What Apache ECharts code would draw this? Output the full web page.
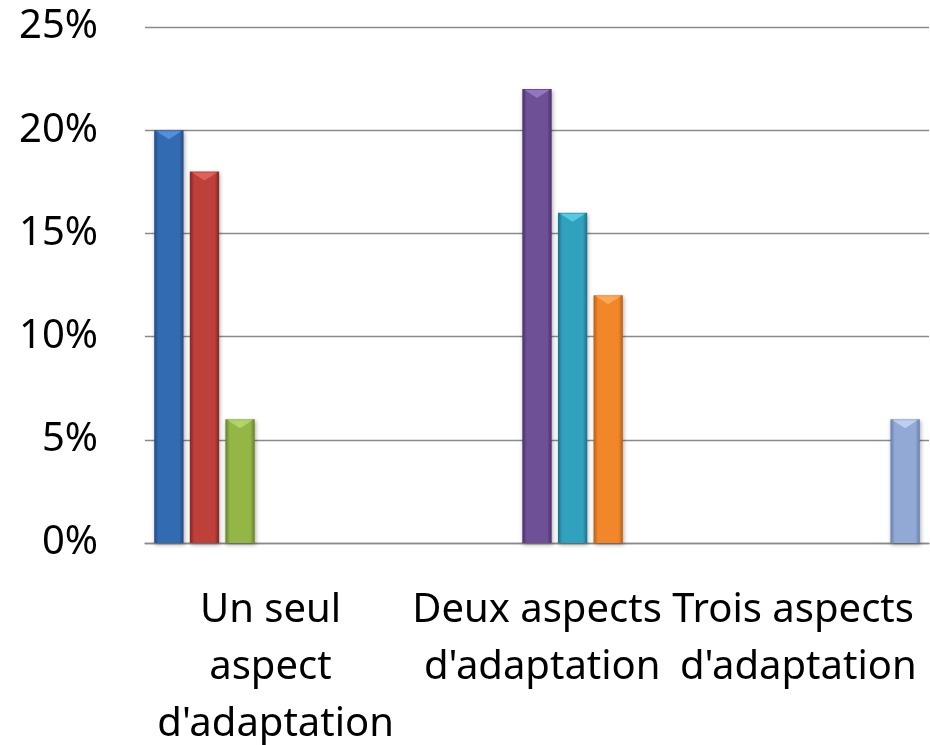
<!DOCTYPE html>
<html>
<head>
<meta charset="utf-8">
<script src="https://cdn.jsdelivr.net/npm/echarts@6/dist/echarts.min.js"></script>
<style>
  html, body { margin: 0; padding: 0; background: #fff; }
  #chart { width: 930px; height: 745px; }
</style>
</head>
<body>
<div id="chart"></div>
<script>
// categories (x axis)
var categories = ["Un seul aspect d'adaptation", "Deux aspects d'adaptation", "Trois aspects d'adaptation"];
// y axis ticks, in percent
var yTicks = [0, 5, 10, 15, 20, 25];

// one series per bar colour, values in percent (null = no bar)
var s1 = [20, null, null];
var s2 = [18, null, null];
var s3 = [6, null, null];
var s4 = [null, 22, null];
var s5 = [null, 16, null];
var s6 = [null, 12, null];
var s7 = [null, null, 6];

// edge / middle / top-bevel shades
var shades = [
  ['#214a84', '#336bb3', '#5a95e0'],
  ['#842624', '#bd403a', '#e06a62'],
  ['#66832a', '#93b646', '#b7d870'],
  ['#482f6a', '#6e5097', '#9a7cc6'],
  ['#1c7188', '#30a2bd', '#5fd0ea'],
  ['#b85f16', '#f1862b', '#ffb060'],
  ['#667ead', '#91a9d4', '#c4d6f2']
];

function fill(c) {
  return new echarts.graphic.LinearGradient(0, 0, 1, 0, [
    { offset: 0, color: c[0] },
    { offset: 0.15, color: c[1] },
    { offset: 0.5, color: c[1] },
    { offset: 0.85, color: c[1] },
    { offset: 1, color: c[0] }
  ]);
}

var chart = echarts.init(document.getElementById('chart'));
var fontFam = '"Noto Sans", sans-serif';

var series = [s1, s2, s3, s4, s5, s6, s7].map(function (d, i) {
  return {
    type: 'bar',
    data: d,
    barWidth: 29.3,
    barGap: '21.5%',
    itemStyle: {
      color: fill(shades[i]),
      shadowColor: 'rgba(0,0,0,0.3)',
      shadowBlur: 4,
      shadowOffsetX: 1,
      shadowOffsetY: 2
    },
    // light chevron on top of each bar
    markPoint: {
      silent: true,
      symbol: 'path://M0,0 L10,0 L5,3 Z',
      symbolSize: [25, 8],
      symbolOffset: [0, 5],
      label: { show: false },
      itemStyle: { color: shades[i][2], opacity: 0.85 },
      data: [{ type: 'max' }]
    }
  };
});

chart.setOption({
  animation: false,
  grid: { left: 145, right: 1, top: 27, bottom: 202, outerBoundsMode: 'none' },
  xAxis: {
    type: 'category',
    data: categories,
    axisLine: { show: true, lineStyle: { color: '#8a8a8a', width: 1.3 } },
    axisTick: { show: false },
    axisLabel: {
      interval: 0,
      margin: 39,
      width: 258,
      overflow: 'break',
      color: '#000',
      fontSize: 40,
      lineHeight: 57,
      fontFamily: fontFam
    }
  },
  yAxis: {
    type: 'value',
    min: yTicks[0],
    max: yTicks[yTicks.length - 1],
    interval: 5,
    axisLine: { show: false },
    axisTick: { show: false },
    splitLine: { lineStyle: { color: '#8a8a8a', width: 1.3 } },
    axisLabel: {
      formatter: '{value}%',
      margin: 47,
      color: '#000',
      fontSize: 40,
      fontFamily: fontFam
    }
  },
  series: series
});
</script>
</body>
</html>
